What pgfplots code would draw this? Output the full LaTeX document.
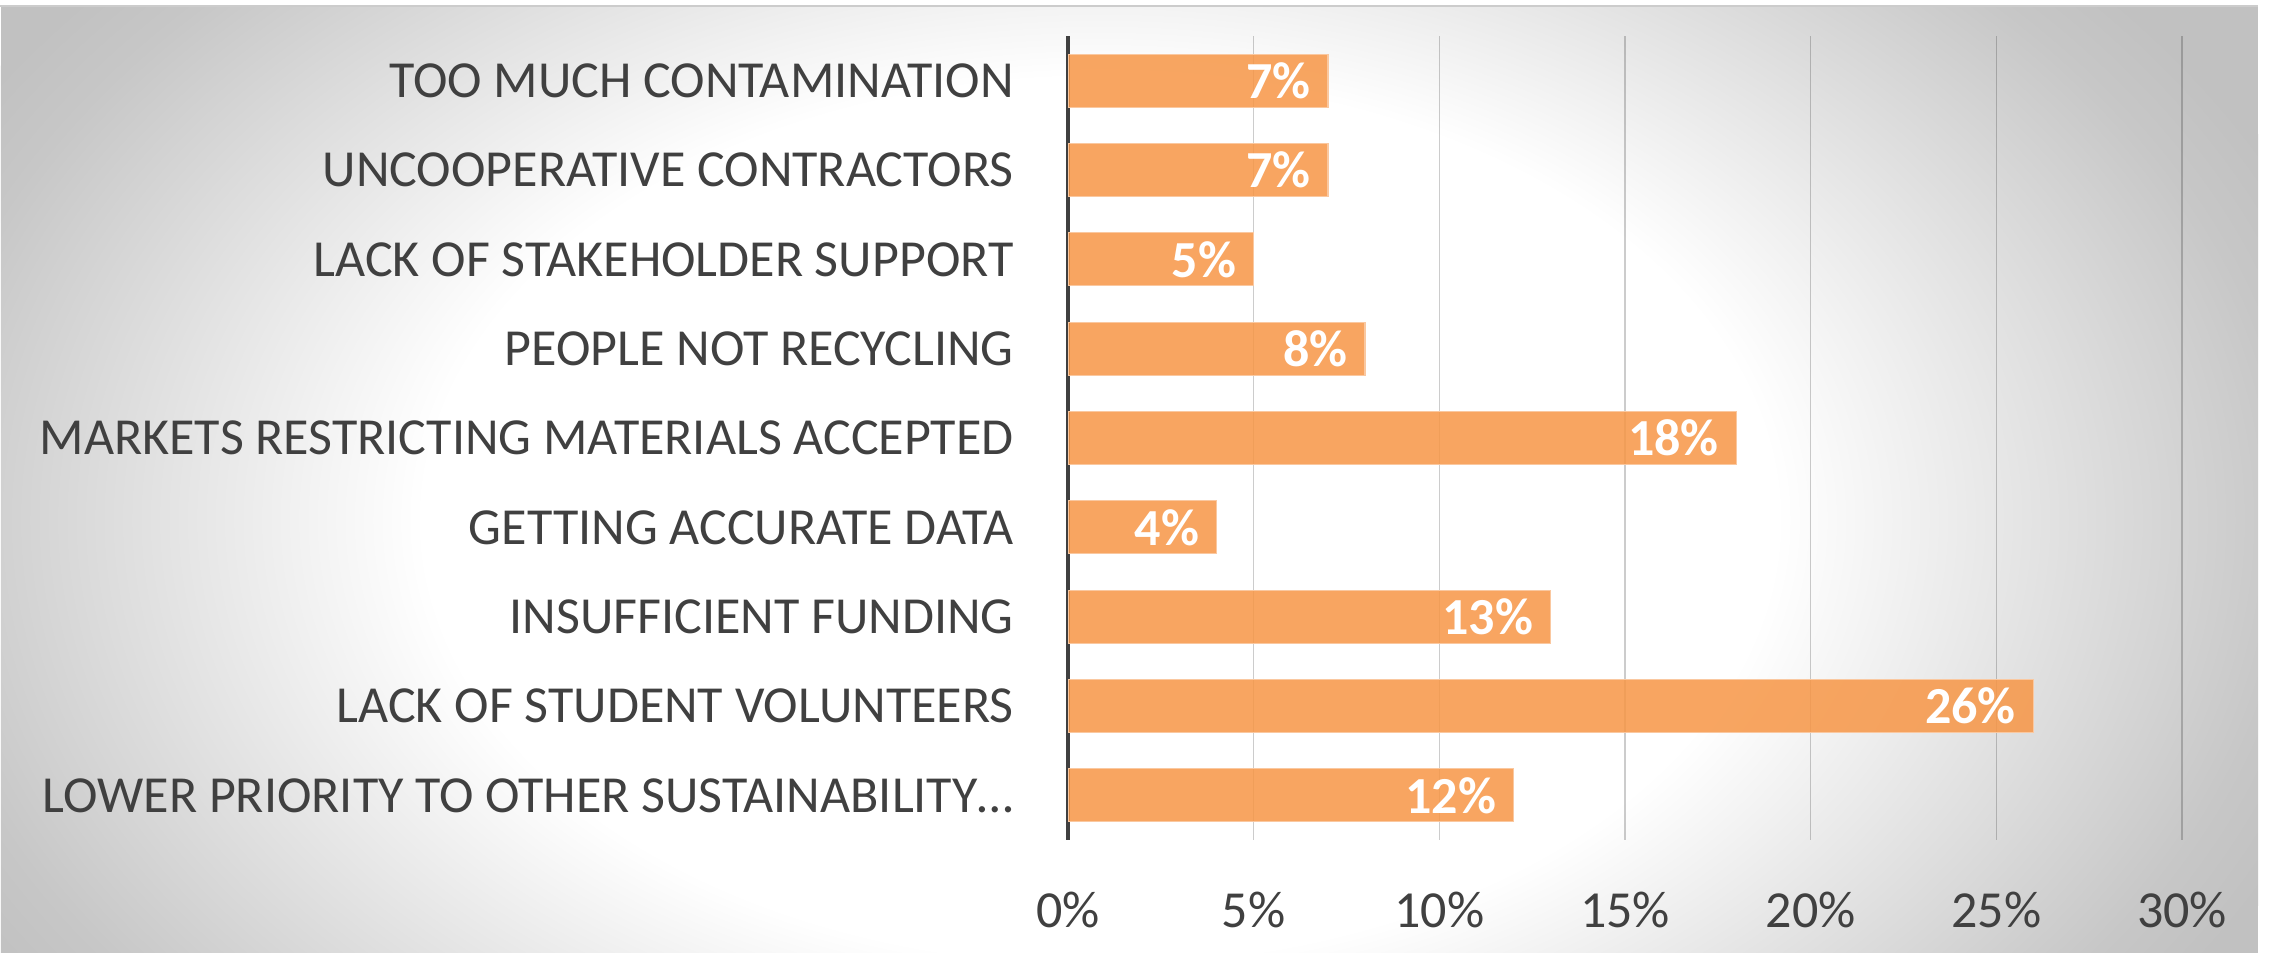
\documentclass[border=0pt]{standalone}
\usepackage{pgfplots}
\pgfplotsset{compat=1.18}
\usepackage{fontspec}
\setmainfont{Carlito}
\definecolor{bar}{HTML}{F79646}
\definecolor{baredge}{HTML}{FAC8A0}
\definecolor{txt}{HTML}{404040}
\definecolor{bgA}{gray}{0.78}
\definecolor{bgB}{gray}{0.755}
\definecolor{bordc}{gray}{0.80}
\pgfdeclareradialshading{bgshade}{\pgfpoint{0bp}{0bp}}{color(0bp)=(white); color(13bp)=(white); color(23bp)=(bgA); color(25bp)=(bgB); color(50bp)=(bgB)}
\begin{document}
\begin{tikzpicture}
\useasboundingbox (0,0) rectangle (1136bp,476.5bp);
\fill[white] (0,0) rectangle (1136bp,476.5bp);
\begin{scope}
\clip (0.5bp,0bp) rectangle (1129bp,473.5bp);
\fill[bgB] (0.5bp,0bp) rectangle (1129bp,473.5bp);
\shade[shading=bgshade] (550bp,216.5bp) ellipse [x radius=650bp, y radius=425bp];
\end{scope}
\draw[bordc, line width=1bp] (0bp,473.5bp) -- (1129bp,473.5bp);
\begin{axis}[
  at={(534bp,56.5bp)}, anchor=south west, scale only axis,
  width=557bp, height=402bp,
  xbar, xmin=0, xmax=30, ymin=-0.5, ymax=8.5, y dir=reverse,
  bar width=26.5bp,
  xtick={0,5,...,30}, ytick={0,...,8},
  yticklabels={TOO MUCH CONTAMINATION, UNCOOPERATIVE CONTRACTORS, LACK OF STAKEHOLDER SUPPORT\ , PEOPLE NOT RECYCLING\ , MARKETS RESTRICTING MATERIALS ACCEPTED, GETTING ACCURATE DATA, INSUFFICIENT FUNDING, LACK OF STUDENT VOLUNTEERS, LOWER PRIORITY TO OTHER SUSTAINABILITY…},
  xticklabel={\pgfmathprintnumber{\tick}\%},
  /pgf/number format/assume math mode=true,
  major tick length=0pt,
  axis line style={draw=none},
  xmajorgrids, ymajorgrids=false,
  grid style={draw=black, draw opacity=0.2, line width=0.6bp},
  ticklabel style={font=\fontsize{26bp}{31bp}\selectfont, text=txt, inner sep=0pt},
  yticklabel style={anchor=east, xshift=-27bp},
  xticklabel style={anchor=base, yshift=-43.5bp},
  extra x ticks={0}, extra x tick labels={},
  extra x tick style={grid style={draw=txt, draw opacity=1, line width=2bp}},
]
\addplot[fill=bar, fill opacity=0.85, draw=baredge, line width=0.6bp,
  nodes near coords={\pgfmathprintnumber{\pgfplotspointmeta}\%},
  every node near coord/.append style={anchor=east, xshift=-8.5bp, inner sep=0pt,
    font=\bfseries\fontsize{26bp}{31bp}\selectfont, text=white, text opacity=1}]
  coordinates {(7,0) (7,1) (5,2) (8,3) (18,4) (4,5) (13,6) (26,7) (12,8)};
\end{axis}
\end{tikzpicture}
\end{document}
